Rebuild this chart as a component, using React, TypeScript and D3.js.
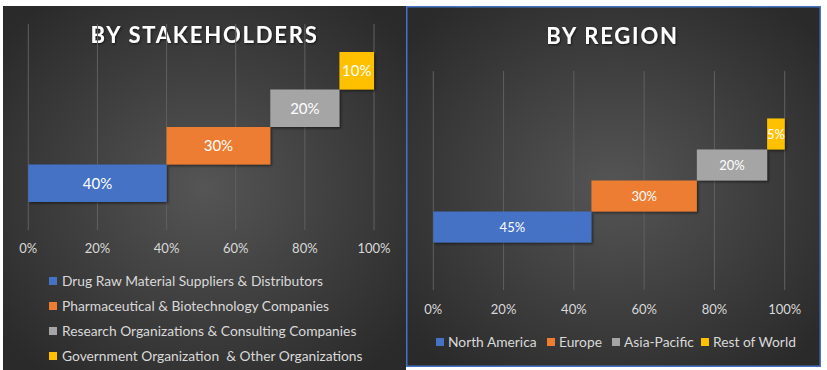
import React from "react";
import * as d3 from "d3";

const stakeholderCategories = [
  "Drug Raw Material Suppliers & Distributors",
  "Pharmaceutical & Biotechnology Companies",
  "Research Organizations & Consulting Companies",
  "Government Organization  & Other Organizations",
];
const stakeholderValues = [40, 30, 20, 10];

const regionCategories = ["North America", "Europe", "Asia-Pacific", "Rest of World"];
const regionValues = [45, 30, 20, 5];

const tickValues = [0, 20, 40, 60, 80, 100];
const colors = ["#4472c4", "#ed7d31", "#a5a5a5", "#ffc000"];

const FONT = "Lato, 'Open Sans', sans-serif";

type PanelProps = {
  cats: string[];
  vals: number[];
  xRange: [number, number];
  yRange: [number, number];
  pad: number;
  labelSize: number;
  title: string;
  titleX: number;
  titleY: number;
  tickY: number;
};

function Bars({ cats, vals, xRange, yRange, pad, labelSize, title, titleX, titleY, tickY }: PanelProps) {
  const x = d3.scaleLinear().domain([0, 100]).range(xRange);
  const y = d3.scaleBand<string>().domain(cats).range(yRange).paddingInner(0).paddingOuter(pad);
  const starts = [0, ...Array.from(d3.cumsum(vals)).slice(0, -1)];
  return (
    <g>
      <text
        x={titleX}
        y={titleY}
        textAnchor="middle"
        fill="#ffffff"
        fontFamily={FONT}
        fontWeight="bold"
        fontSize={22}
        letterSpacing={1.8}
        filter="url(#tshadow)"
      >
        {title}
      </text>
      {tickValues.map((t) => (
        <g key={t}>
          <line x1={x(t)} x2={x(t)} y1={yRange[1]} y2={yRange[0]} stroke="#606060" strokeWidth={1} />
          <text x={x(t)} y={tickY} textAnchor="middle" fill="#d9d9d9" fontFamily={FONT} fontSize={13}>
            {t}%
          </text>
        </g>
      ))}
      {cats.map((c, i) => {
        const x0 = x(starts[i]);
        const x1 = x(starts[i] + vals[i]);
        const yy = y(c)!;
        return (
          <g key={c}>
            <rect x={x0} y={yy} width={x1 - x0} height={y.bandwidth()} fill={colors[i]} filter="url(#bshadow)" />
            <text
              x={(x0 + x1) / 2}
              y={yy + y.bandwidth() / 2}
              dy="0.36em"
              textAnchor="middle"
              fill="#ffffff"
              fontFamily={FONT}
              fontSize={labelSize}
            >
              {vals[i]}%
            </text>
          </g>
        );
      })}
    </g>
  );
}

export default function App() {
  const leftLegendY = [281, 306, 331, 356];
  const rightLegendX = [436, 547, 612, 701];
  return (
    <svg
      width={827}
      height={370}
      style={{ position: "absolute", left: 0, top: 0, background: "#ffffff" }}
    >
      <defs>
        <radialGradient id="bgL" cx="50%" cy="50%" r="65%">
          <stop offset="0%" stopColor="#555555" />
          <stop offset="100%" stopColor="#2a2a2a" />
        </radialGradient>
        <radialGradient id="bgR" cx="50%" cy="50%" r="65%">
          <stop offset="0%" stopColor="#555555" />
          <stop offset="100%" stopColor="#2a2a2a" />
        </radialGradient>
        <filter id="bshadow" x="-10%" y="-20%" width="130%" height="160%">
          <feDropShadow dx={1.5} dy={1.5} stdDeviation={1.2} floodColor="#000" floodOpacity={0.5} />
        </filter>
        <filter id="tshadow" x="-10%" y="-30%" width="120%" height="170%">
          <feDropShadow dx={1} dy={1} stdDeviation={1} floodColor="#000" floodOpacity={0.6} />
        </filter>
      </defs>
      <rect x={3} y={6} width={403} height={364} fill="url(#bgL)" />
      <rect x={406.75} y={6.75} width={413.5} height={359.5} fill="url(#bgR)" stroke="#4472c4" strokeWidth={1.5} />

      <Bars
        cats={stakeholderCategories}
        vals={stakeholderValues}
        xRange={[28.3, 374]}
        yRange={[230, 24]}
        pad={0.747}
        labelSize={15}
        title="BY STAKEHOLDERS"
        titleX={204.5}
        titleY={43}
        tickY={253}
      />
      <Bars
        cats={regionCategories}
        vals={regionValues}
        xRange={[433.3, 784.7]}
        yRange={[290, 71]}
        pad={1.53}
        labelSize={13}
        title="BY REGION"
        titleX={612.5}
        titleY={44}
        tickY={314}
      />

      {stakeholderCategories.map((c, i) => (
        <g key={c}>
          <rect x={49} y={leftLegendY[i] - 4} width={8} height={8} fill={colors[i]} />
          <text
            x={62}
            y={leftLegendY[i]}
            dy="0.36em"
            fill="#d9d9d9"
            fontFamily={FONT}
            fontSize={13.8}
            style={{ whiteSpace: "pre" }}
          >
            {c}
          </text>
        </g>
      ))}
      {regionCategories.map((c, i) => (
        <g key={c}>
          <rect x={rightLegendX[i]} y={338} width={8} height={8} fill={colors[i]} />
          <text x={rightLegendX[i] + 12} y={342} dy="0.36em" fill="#d9d9d9" fontFamily={FONT} fontSize={13.8}>
            {c}
          </text>
        </g>
      ))}
    </svg>
  );
}
